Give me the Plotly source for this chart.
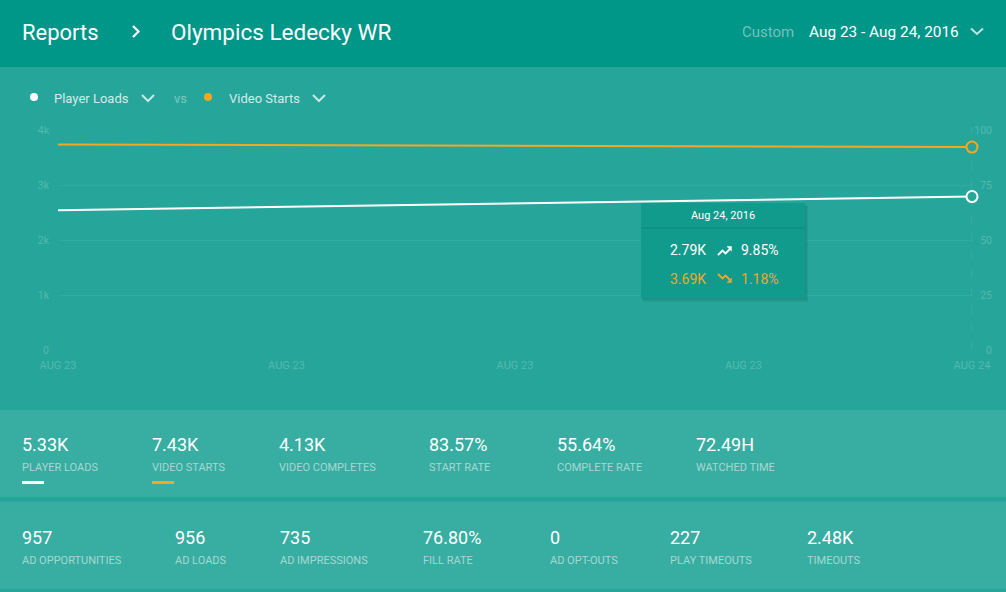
import plotly.graph_objects as go
import pandas as pd

W, H = 1006, 592

# ---------------- data ----------------
dates = ["2016-08-23", "2016-08-24"]
player_loads = [2540, 2790]
video_starts = [3735, 3690]
x_tick_labels = ["AUG 23", "AUG 23", "AUG 23", "AUG 23", "AUG 24"]
y_left_vals = [0, 1000, 2000, 3000, 4000]
y_left_text = ["0", "1k", "2k", "3k", "4k"]
y_right_vals = [0, 25, 50, 75, 100]
stats_row1_values = ["5.33K", "7.43K", "4.13K", "83.57%", "55.64%", "72.49H"]
stats_row1_labels = ["PLAYER LOADS", "VIDEO STARTS", "VIDEO COMPLETES", "START RATE", "COMPLETE RATE", "WATCHED TIME"]
stats_row2_values = ["957", "956", "735", "76.80%", "0", "227", "2.48K"]
stats_row2_labels = ["AD OPPORTUNITIES", "AD LOADS", "AD IMPRESSIONS", "FILL RATE", "AD OPT-OUTS", "PLAY TIMEOUTS", "TIMEOUTS"]
tooltip_title = "Aug 24, 2016"
tooltip_values = ["2.79K", "3.69K"]
tooltip_changes = ["9.85%", "1.18%"]

# ---------------- styles ----------------
HEADER = "#009688"
PANEL = "#26A69A"
STATS = "#38ADA1"
TOOLTIP = "#119B8C"
ORANGE = "#F5A623"
WHITE = "#FFFFFF"
FONT = "Roboto"
FAINT = "rgba(255,255,255,0.22)"


def px(x):
    return x / W


def py(y):
    return 1 - y / H


def path(points, close=False):
    s = "M " + " L ".join(f"{px(a):.5f},{py(b):.5f}" for a, b in points)
    return s + (" Z" if close else "")


shapes = []
annotations = []


def rect(x0, y0, x1, y1, color, layer="below"):
    shapes.append(dict(type="rect", xref="paper", yref="paper",
                       x0=px(x0), x1=px(x1), y0=py(y1), y1=py(y0),
                       fillcolor=color, line=dict(width=0), layer=layer))


def text(x, y, s, size, color, anchor="left", family=FONT):
    # annotation boxes carry ~2px padding; compensate so x is the glyph edge
    if anchor == "left":
        x -= 2
    elif anchor == "right":
        x += 2
    annotations.append(dict(xref="paper", yref="paper", x=px(x), y=py(y),
                            text=s, showarrow=False, xanchor=anchor, yanchor="middle",
                            font=dict(family=family, size=size, color=color)))


def polyline(points, color, width, layer="above", fill=None):
    d = dict(type="path", xref="paper", yref="paper", path=path(points, close=fill is not None),
             line=dict(color=color, width=width), layer=layer)
    if fill:
        d["fillcolor"] = fill
    shapes.append(d)


# backgrounds
rect(0, 0, W, 67, HEADER)
rect(0, 410, W, 497, STATS)
rect(0, 502, W, 589, STATS)

# header
text(22, 32, "Reports", 22, WHITE)
polyline([(133, 26), (138.5, 31.5), (133, 37)], WHITE, 2.2)
text(171, 32, "Olympics Ledecky WR", 22.5, WHITE)
text(742, 32, "Custom", 15, "rgba(255,255,255,0.45)")
text(809, 32, "Aug 23 - Aug 24, 2016", 15.4, WHITE)
polyline([(971, 28.5), (977, 34), (983, 28.5)], "rgba(255,255,255,0.75)", 2)

# legend row
shapes.append(dict(type="circle", xref="paper", yref="paper", x0=px(30), x1=px(38),
                   y0=py(101), y1=py(93), fillcolor=WHITE, line=dict(width=0)))
text(54, 98, "Player Loads", 13, "rgba(255,255,255,0.8)")
polyline([(142, 95), (148, 101), (154, 95)], "rgba(255,255,255,0.75)", 2)
text(174, 98, "vs", 13, "rgba(255,255,255,0.4)")
shapes.append(dict(type="circle", xref="paper", yref="paper", x0=px(204), x1=px(212),
                   y0=py(101), y1=py(93), fillcolor=ORANGE, line=dict(width=0)))
text(229, 98, "Video Starts", 13, "rgba(255,255,255,0.8)")
polyline([(313, 95), (319, 101), (325, 95)], "rgba(255,255,255,0.75)", 2)

# stats rows
row1_x = [22, 152, 279, 429, 557, 696]
for xv, v, l in zip(row1_x, stats_row1_values, stats_row1_labels):
    text(xv, 444, v, 18, WHITE)
    text(xv, 467, l, 11, "rgba(255,255,255,0.55)")
rect(22, 481, 44, 484, WHITE, layer="above")
rect(152, 481, 174, 484, ORANGE, layer="above")

row2_x = [22, 175, 280, 423, 550, 670, 807]
for xv, v, l in zip(row2_x, stats_row2_values, stats_row2_labels):
    text(xv, 537, v, 18, WHITE)
    text(xv, 560, l, 11, "rgba(255,255,255,0.55)")

# hover guide line at last date
shapes.append(dict(type="line", xref="x", yref="paper", x0=dates[-1], x1=dates[-1],
                   y0=py(350), y1=py(127), line=dict(color="rgba(255,255,255,0.13)", width=1, dash="dash"),
                   layer="below"))

# tooltip (shadow + box)
rect(643, 206, 808, 302, "rgba(0,0,0,0.06)", layer="above")
rect(642, 205, 807, 300, "rgba(0,0,0,0.08)", layer="above")
rect(641, 203, 805, 298, TOOLTIP, layer="above")
shapes.append(dict(type="line", xref="paper", yref="paper", x0=px(641), x1=px(805),
                   y0=py(228), y1=py(228), line=dict(color="rgba(0,0,0,0.12)", width=1), layer="above"))
text(723, 215, tooltip_title, 11, WHITE, anchor="center")
text(706, 250, tooltip_values[0], 14, WHITE, anchor="right")
text(741, 250, tooltip_changes[0], 14, WHITE)
text(706, 279, tooltip_values[1], 14, ORANGE, anchor="right")
text(741, 279, tooltip_changes[1], 14, ORANGE)
# trending up icon
polyline([(718, 255), (722.5, 250.5), (725.5, 253.5), (730, 249)], WHITE, 1.8)
polyline([(727, 246.5), (731.5, 246.5), (731.5, 251)], WHITE, 0.5, fill=WHITE)
# trending down icon
polyline([(718, 274), (722.5, 278.5), (725.5, 275.5), (730, 280)], ORANGE, 1.8)
polyline([(727, 282.5), (731.5, 282.5), (731.5, 278)], ORANGE, 0.5, fill=ORANGE)

fig = go.Figure()
fig.add_trace(go.Scatter(x=dates, y=video_starts, mode="lines", line=dict(color=ORANGE, width=2),
                         hoverinfo="skip", showlegend=False, cliponaxis=False))
fig.add_trace(go.Scatter(x=dates, y=player_loads, mode="lines", line=dict(color=WHITE, width=2),
                         hoverinfo="skip", showlegend=False, cliponaxis=False))
fig.add_trace(go.Scatter(x=dates[-1:], y=video_starts[-1:], mode="markers",
                         marker=dict(size=11, color=PANEL, line=dict(color=ORANGE, width=2)),
                         hoverinfo="skip", showlegend=False, cliponaxis=False))
fig.add_trace(go.Scatter(x=dates[-1:], y=player_loads[-1:], mode="markers",
                         marker=dict(size=11, color=PANEL, line=dict(color=WHITE, width=2)),
                         hoverinfo="skip", showlegend=False, cliponaxis=False))
# right axis carrier (invisible)
fig.add_trace(go.Scatter(x=dates, y=[0, 0], yaxis="y2", mode="lines", line=dict(width=0),
                         hoverinfo="skip", showlegend=False, opacity=0))

tickvals_x = pd.date_range(dates[0], dates[-1], periods=len(x_tick_labels))

fig.update_layout(
    width=W, height=H,
    margin=dict(l=0, r=0, t=0, b=0, autoexpand=False),
    paper_bgcolor=PANEL, plot_bgcolor=PANEL,
    font=dict(family=FONT),
    shapes=shapes, annotations=annotations,
    xaxis=dict(domain=[px(58), px(972)], type="date", range=[dates[0], dates[-1]],
               tickvals=tickvals_x, ticktext=x_tick_labels, showgrid=False, zeroline=False,
               showline=False, tickfont=dict(size=11, color=FAINT, family=FONT),
               ticklabelstandoff=7, fixedrange=True, automargin=False),
    yaxis=dict(domain=[py(350), py(130)], range=[0, 4000], tickvals=y_left_vals, ticktext=y_left_text,
               showgrid=True, gridcolor="rgba(255,255,255,0.05)", gridwidth=1, zeroline=False,
               showline=False, tickfont=dict(size=10.5, color=FAINT, family=FONT),
               ticklabelstandoff=8, fixedrange=True, automargin=False),
    yaxis2=dict(overlaying="y", side="left", anchor="free", position=px(992), range=[0, 100],
                tickvals=y_right_vals, showgrid=False, zeroline=False, showline=False,
                tickfont=dict(size=10.5, color=FAINT, family=FONT), fixedrange=True, automargin=False),
    hovermode=False,
)

fig.write_html("out.html", config={"displayModeBar": False},
               post_script="document.body.style.margin='0';document.body.style.overflow='hidden';")
